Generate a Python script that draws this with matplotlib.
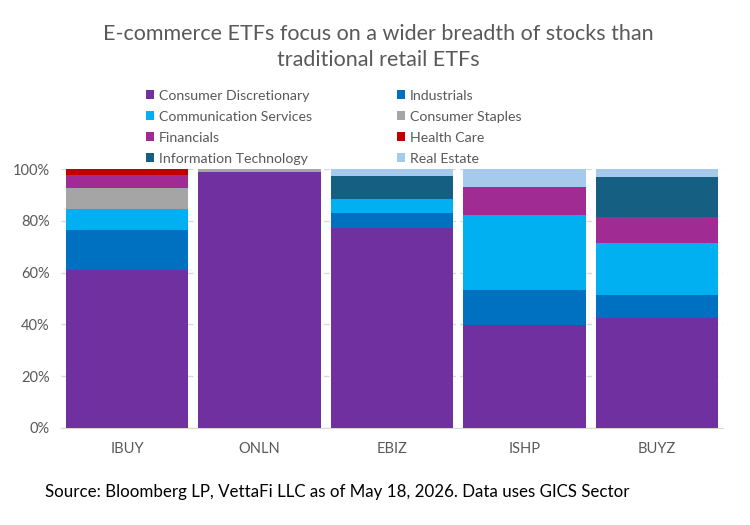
import matplotlib
matplotlib.use("Agg")
import matplotlib.pyplot as plt
import numpy as np

plt.rcParams['font.family'] = ['Lato', 'DejaVu Sans']

etfs = ["IBUY", "ONLN", "EBIZ", "ISHP", "BUYZ"]
sectors = ["Consumer Discretionary", "Industrials", "Communication Services",
           "Consumer Staples", "Financials", "Health Care",
           "Information Technology", "Real Estate"]
consumer_discretionary = [61.0, 98.7, 77.2, 39.6, 42.3]
industrials            = [15.4, 0.0, 6.0, 13.5, 9.2]
communication_services = [8.3, 0.0, 5.3, 29.0, 19.8]
consumer_staples       = [7.9, 1.3, 0.0, 0.0, 0.0]
financials             = [5.2, 0.0, 0.0, 10.8, 10.3]
health_care            = [2.2, 0.0, 0.0, 0.0, 0.0]
information_technology = [0.0, 0.0, 8.9, 0.0, 15.3]
real_estate            = [0.0, 0.0, 2.6, 7.1, 3.1]
yticks = [0, 20, 40, 60, 80, 100]

series = [consumer_discretionary, industrials, communication_services,
          consumer_staples, financials, health_care,
          information_technology, real_estate]
colors = ["#7030A0", "#0070C0", "#00B0F0", "#A5A5A5",
          "#A02B93", "#C00000", "#156082", "#A6CAEC"]

fig = plt.figure(figsize=(7.5, 5.25), dpi=100)
ax = fig.add_axes([0.081, 0.185, 0.883, 0.493])

x = np.arange(len(etfs))
bottom = np.zeros(len(etfs))
handles = []
for name, vals, c in zip(sectors, series, colors):
    v = np.array(vals) / 100.0
    h = ax.bar(x, v, bottom=bottom, width=0.925, color=c, label=name,
               edgecolor='none', zorder=3)
    handles.append(h)
    bottom += v

ax.set_xlim(-0.5, len(etfs) - 0.5)
ax.set_ylim(0, 1.0)
ax.set_yticks([t / 100 for t in yticks])
ax.set_yticklabels([f"{t}%" for t in yticks])
ax.set_xticks(x)
ax.set_xticklabels(etfs)
ax.yaxis.grid(True, linestyle=(0, (4, 3)), color="#D9D9D9", linewidth=1, zorder=0)
ax.set_axisbelow(True)
for s in ["top", "right", "left"]:
    ax.spines[s].set_visible(False)
ax.spines["bottom"].set_color("#D9D9D9")
ax.tick_params(axis='both', length=0, labelsize=10.5, colors="#595959", pad=8)
ax.tick_params(axis='x', pad=10)

fig.text(0.504, 0.911, "E-commerce ETFs focus on a wider breadth of stocks than\ntraditional retail ETFs",
         ha='center', va='center', fontsize=15.5, color="#595959", linespacing=1.4)

# legend in row-major order, two columns
order = [0, 2, 4, 6, 1, 3, 5, 7]
leg = fig.legend([handles[i] for i in order], [sectors[i] for i in order],
                 ncol=2, loc='upper left', bbox_to_anchor=(0.195, 0.829),
                 frameon=False, fontsize=10.2, handlelength=0.55, handleheight=0.55,
                 handletextpad=0.35, columnspacing=6.0, labelspacing=0.63,
                 labelcolor="#595959", borderaxespad=0, borderpad=0)

fig.text(0.06, 0.062, "Source: Bloomberg LP, VettaFi LLC as of May 18, 2026. Data uses GICS Sector",
         ha='left', va='center', fontsize=12.2, color="black")

fig.savefig("out.png", dpi=100)
